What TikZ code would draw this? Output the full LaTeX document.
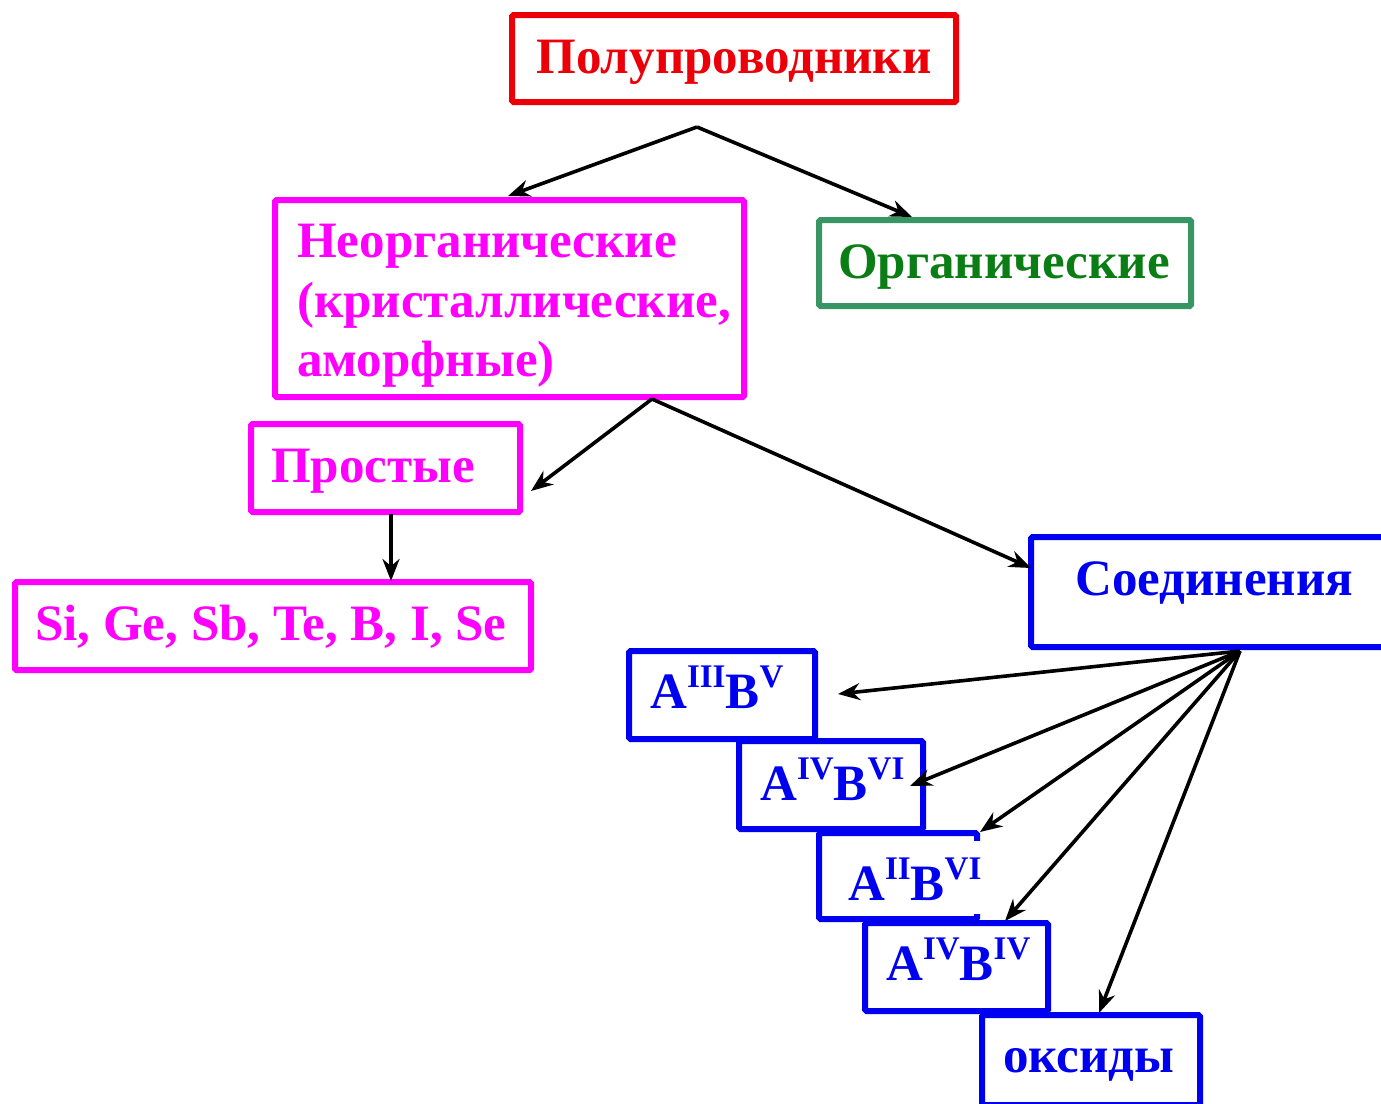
\documentclass[tikz,border=0pt]{standalone}
\usepackage{fontspec}
\setmainfont{Liberation Serif}
\usetikzlibrary{arrows.meta}
\definecolor{cred}{RGB}{235,0,10}
\definecolor{cmag}{RGB}{255,0,255}
\definecolor{cgreenb}{RGB}{56,150,100}
\definecolor{cgreent}{RGB}{10,125,20}
\definecolor{cblue}{RGB}{0,0,240}
\tikzset{
  x=1pt, y=-1pt,
  box/.style={draw, line width=6pt, rounded corners=1.5pt, rectangle},
  lbl/.style={anchor=base west, inner sep=0pt, font=\fontsize{51}{60}\selectfont\bfseries, align=left},
  arr/.style={draw=black, line width=3.6pt, -{Stealth[length=22pt,width=17pt]}},
}
\newcommand{\boxat}[6]{% name, color, x1,y1,x2,y2
  \path[box, draw=#2] (#3,#4) rectangle (#5,#6);
  \coordinate (#1-nw) at (#3,#4);
  \coordinate (#1-se) at (#5,#6);
}
\newcommand{\sps}[1]{\raisebox{21pt}{\fontsize{33}{33}\selectfont #1}}
\begin{document}
\begin{tikzpicture}
\useasboundingbox (0,0) rectangle (1381,1103);
\fill[white] (0,0) rectangle (1381,1103);
% boxes
\boxat{poly}{cred}{512}{15}{956}{102}
\boxat{neorg}{cmag}{275}{200}{744}{397}
\boxat{org}{cgreenb}{819}{220}{1191}{306}
\boxat{prost}{cmag}{251}{424}{520}{512}
\boxat{elem}{cmag}{15}{582}{531}{670}
\boxat{soed}{cblue}{1031}{537}{1395}{647}
\boxat{abA}{cblue}{629}{651}{815}{739}
\boxat{abB}{cblue}{739}{741}{923}{829}
\boxat{abC}{cblue}{819}{833}{977}{919}
\boxat{abD}{cblue}{865}{923}{1048}{1011}
\boxat{oxid}{cblue}{982}{1015}{1200}{1105}
\fill[white] (973,841) rectangle (982,914);
% texts
\node[lbl, text=cred, anchor=base] (poly-t) at (734,73) {Полупроводники};
\node[lbl, text=cmag] (neorg-t1) at (297,257) {Неорганические};
\node[lbl, text=cmag] (neorg-t2) at (297,317) {(кристаллические,};
\node[lbl, text=cmag] (neorg-t3) at (297,376) {аморфные)};
\node[lbl, text=cgreent] (org-t) at (838,278) {Органические};
\node[lbl, text=cmag] (prost-t) at (271,482) {Простые};
\node[lbl, text=cmag] (elem-t) at (35,640) {Si, Ge, Sb, Te, B, I, Se};
\node[lbl, text=cblue] (soed-t) at (1075,595) {Соединения};
\node[lbl, text=cblue] (abA-t) at (650,708) {A\sps{III}B\sps{V}};
\node[lbl, text=cblue] (abB-t) at (760,800) {A\sps{IV}B\sps{VI}};
\node[lbl, text=cblue] (abC-t) at (848,900) {A\sps{II}B\sps{VI}};
\node[lbl, text=cblue] (abD-t) at (886,980) {A\sps{IV}B\sps{IV}};
\node[lbl, text=cblue] (oxid-t) at (1003,1072) {оксиды};
% connector coordinates
\coordinate (s1) at (697,127);
\coordinate (neorg-in) at (508,196);
\coordinate (org-in) at (912,217);
\coordinate (s2) at (652,399);
\coordinate (prost-in) at (531,491);
\coordinate (soed-in) at (1031,568);
\coordinate (prost-out) at (391,514);
\coordinate (elem-in) at (391,581);
\coordinate (s3) at (1240,651);
\coordinate (abA-in) at (838,694);
\coordinate (abB-in) at (910,786);
\coordinate (abC-in) at (980,832);
\coordinate (abD-in) at (1005,921);
\coordinate (oxid-in) at (1099,1013);
% connectors
\draw[arr] (s1) -- (neorg-in);
\draw[arr] (s1) -- (org-in);
\draw[arr] (s2) -- (prost-in);
\draw[arr] (s2) -- (soed-in);
\draw[arr] (prost-out) -- (elem-in);
\draw[arr] (s3) -- (abA-in);
\draw[arr] (s3) -- (abB-in);
\draw[arr] (s3) -- (abC-in);
\draw[arr] (s3) -- (abD-in);
\draw[arr] (s3) -- (oxid-in);
\end{tikzpicture}
\end{document}
